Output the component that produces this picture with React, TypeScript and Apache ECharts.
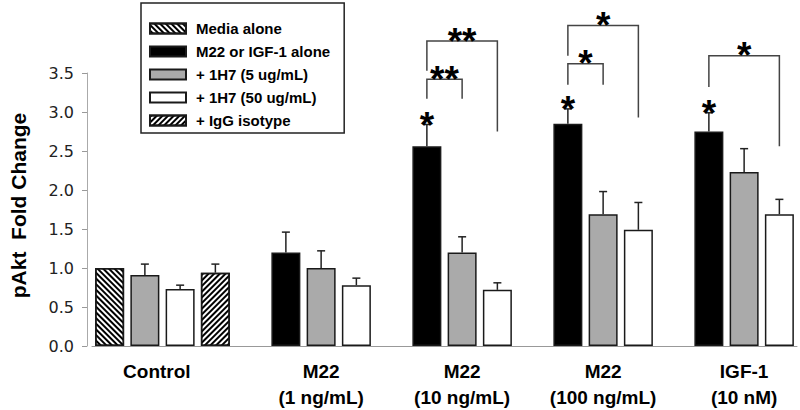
import React, { useEffect, useRef } from 'react';
import * as echarts from 'echarts';

// ---------- data ----------
const groups = ['Control', 'M22\n(1 ng/mL)', 'M22\n(10 ng/mL)', 'M22\n(100 ng/mL)', 'IGF-1\n(10 nM)'];
const seriesNames = ['Media alone', 'M22 or IGF-1 alone', '+ 1H7 (5 ug/mL)', '+ 1H7 (50 ug/mL)', '+ IgG isotype'];

const mediaAlone = [1.0, null, null, null, null];
const agonistAlone = [null, 1.2, 2.56, 2.85, 2.75];
const h7Low = [0.91, 1.0, 1.2, 1.69, 2.23];
const h7High = [0.73, 0.78, 0.72, 1.49, 1.69];
const iggIsotype = [0.94, null, null, null, null];

const mediaErr = [null, null, null, null, null];
const agonistErr = [null, 0.26, 0.28, 0.19, 0.24];
const h7LowErr = [0.14, 0.22, 0.2, 0.29, 0.3];
const h7HighErr = [0.05, 0.09, 0.09, 0.35, 0.19];
const iggErr = [0.11, null, null, null, null];

// significance vs control (star above the agonist-alone bar)
const agonistSig = [false, false, true, true, true];

// brackets: group, from series, to series, left end, top, right end (fold change units), label
const brackets = [
  { group: 2, from: 1, to: 2, leftEnd: 3.17, top: 3.42, rightEnd: 3.17, label: '**' },
  { group: 2, from: 1, to: 3, leftEnd: 3.53, top: 3.91, rightEnd: 2.75, label: '**' },
  { group: 3, from: 1, to: 2, leftEnd: 3.35, top: 3.62, rightEnd: 3.35, label: '*' },
  { group: 3, from: 1, to: 3, leftEnd: 3.72, top: 4.11, rightEnd: 2.93, label: '*' },
  { group: 4, from: 1, to: 3, leftEnd: 3.32, top: 3.72, rightEnd: 2.56, label: '*' },
];

const yMin = 0;
const yMax = 3.5;
const yInterval = 0.5;

// ---------- build ----------
const seriesValues = [mediaAlone, agonistAlone, h7Low, h7High, iggIsotype];
const seriesErrs = [mediaErr, agonistErr, h7LowErr, h7HighErr, iggErr];

type Slot = { group: number; series: number };
const slots: Slot[] = [];
groups.forEach((_, gi) => {
  if (gi > 0) slots.push({ group: gi, series: -1 });
  seriesValues.forEach((arr, si) => {
    if (arr[gi] != null) slots.push({ group: gi, series: si });
  });
});
const slotIndex = (g: number, s: number) => slots.findIndex((sl) => sl.group === g && sl.series === s);

const labelAt: Record<number, string> = {};
groups.forEach((g, gi) => {
  const members = slots.map((s, i) => ({ s, i })).filter((o) => o.s.group === gi && o.s.series >= 0);
  const mid = members[Math.floor((members.length - 1) / 2)].i;
  labelAt[mid] = members.length % 2 === 0 ? `{sh|${g}}` : g;
});

const FONT = "'Liberation Sans', Arial, sans-serif";

const fills = ['#ffffff', '#000000', '#aaaaaa', '#ffffff', '#ffffff'];
const decals: any[] = [
  { symbol: 'rect', symbolSize: 1, dashArrayX: [1, 0], dashArrayY: [2, 2], rotation: Math.PI / 4, color: '#000' },
  null,
  null,
  null,
  { symbol: 'rect', symbolSize: 1, dashArrayX: [1, 0], dashArrayY: [2, 2], rotation: -Math.PI / 4, color: '#000' },
];

const STAR_SIZE = 37;

export default function App() {
  const ref = useRef<HTMLDivElement>(null);
  useEffect(() => {
    if (!ref.current) return;
    const chart = echarts.init(ref.current, undefined, { renderer: 'svg' });

    const barSeries = seriesNames.map((name, si) => ({
      type: 'bar',
      name,
      barWidth: 29,
      barGap: '-100%',
      data: slots.map((sl) => (sl.series === si ? seriesValues[si][sl.group] : '-')),
      itemStyle: {
        color: fills[si],
        borderColor: '#1a1a1a',
        borderWidth: 1.5,
        ...(decals[si] ? { decal: decals[si] } : {}),
      },
      z: 2,
    }));

    const errData: number[][] = [];
    slots.forEach((sl, i) => {
      if (sl.series < 0) return;
      const v = seriesValues[sl.series][sl.group] as number;
      const e = seriesErrs[sl.series][sl.group];
      if (e == null) return;
      const star = sl.series === 1 && agonistSig[sl.group] ? 1 : 0;
      errData.push([i, v, v + e, star]);
    });

    const bracketData = brackets.map((b) => [
      slotIndex(b.group, b.from),
      slotIndex(b.group, b.to),
      b.leftEnd,
      b.top,
      b.rightEnd,
    ]);

    const option: any = {
      animation: false,
      grid: { left: 90, right: 3, top: 73, bottom: 63 },
      legend: {
        data: seriesNames,
        orient: 'vertical',
        left: 141,
        top: 3,
        padding: [18, 14, 5, 8],
        itemWidth: 36,
        itemHeight: 10,
        itemGap: 8,
        icon: 'rect',
        borderColor: '#222',
        borderWidth: 1.5,
        textStyle: { fontFamily: FONT, fontWeight: 'bold', fontSize: 15, color: '#000', padding: [0, 0, 0, 5] },
      },
      xAxis: {
        type: 'category',
        data: slots.map((s, i) => `${i}`),
        axisLine: { lineStyle: { color: '#999', width: 1 } },
        axisTick: {
          alignWithLabel: true,
          interval: (idx: number) => slots[idx] && slots[idx].series === -1,
          length: 5,
          lineStyle: { color: '#999' },
        },
        axisLabel: {
          interval: 0,
          margin: 12,
          formatter: (_: string, idx: number) => labelAt[idx] || '',
          fontFamily: FONT,
          fontWeight: 'bold',
          fontSize: 19,
          lineHeight: 26,
          color: '#000',
          rich: {
            sh: { padding: [0, 0, 0, 24], fontFamily: FONT, fontWeight: 'bold', fontSize: 19, lineHeight: 26, color: '#000' },
          },
        },
        splitLine: { show: false },
      },
      yAxis: {
        type: 'value',
        min: yMin,
        max: yMax,
        interval: yInterval,
        offset: 5,
        name: 'pAkt  Fold Change',
        nameLocation: 'middle',
        nameGap: 58,
        nameRotate: 90,
        nameTextStyle: { fontFamily: FONT, fontWeight: 'bold', fontSize: 21, color: '#000', padding: [0, 0, 0, 8] },
        axisLine: { show: true, lineStyle: { color: '#aaa', width: 1 } },
        axisTick: { show: true, length: 5, lineStyle: { color: '#999' } },
        axisLabel: {
          margin: 13,
          formatter: (v: number) => v.toFixed(1),
          fontFamily: "'DejaVu Sans', Verdana, sans-serif",
          fontSize: 16,
          color: '#222',
        },
        splitLine: { show: false },
      },
      series: [
        ...barSeries,
        {
          type: 'custom',
          name: 'errors',
          clip: false,
          z: 3,
          encode: { x: 0, y: [1, 2] },
          data: errData,
          renderItem: (params: any, api: any) => {
            const base = api.coord([api.value(0), api.value(1)]);
            const top = api.coord([api.value(0), api.value(2)]);
            const children: any[] = [
              { type: 'line', shape: { x1: base[0], y1: base[1], x2: top[0], y2: top[1] }, style: { stroke: '#222', lineWidth: 1.5 } },
              { type: 'line', shape: { x1: top[0] - 4, y1: top[1], x2: top[0] + 4, y2: top[1] }, style: { stroke: '#222', lineWidth: 1.5 } },
            ];
            if (api.value(3)) {
              children.push({
                type: 'text',
                x: top[0],
                y: top[1] + 1,
                style: { text: '*', fill: '#000', fontSize: STAR_SIZE, fontWeight: 'bold', fontFamily: FONT, align: 'center', verticalAlign: 'middle' },
              });
            }
            return { type: 'group', children };
          },
        },
        {
          type: 'custom',
          name: 'brackets',
          clip: false,
          z: 4,
          encode: { x: [0, 1], y: [2, 3, 4] },
          data: bracketData,
          renderItem: (params: any, api: any) => {
            const l = api.coord([api.value(0), api.value(2)]);
            const t = api.coord([api.value(0), api.value(3)]);
            const r = api.coord([api.value(1), api.value(4)]);
            const label = brackets[params.dataIndex].label;
            return {
              type: 'group',
              children: [
                {
                  type: 'polyline',
                  shape: { points: [[l[0], l[1]], [l[0], t[1]], [r[0], t[1]], [r[0], r[1]]] },
                  style: { stroke: '#444', lineWidth: 1.5, fill: 'none' },
                },
                {
                  type: 'text',
                  x: (l[0] + r[0]) / 2,
                  y: t[1],
                  style: { text: label, fill: '#000', fontSize: STAR_SIZE, fontWeight: 'bold', fontFamily: FONT, align: 'center', verticalAlign: 'middle' },
                },
              ],
            };
          },
        },
      ],
    };
    chart.setOption(option);
    return () => chart.dispose();
  }, []);
  return <div ref={ref} style={{ width: 800, height: 410, position: 'absolute', left: 0, top: 0 }} />;
}
